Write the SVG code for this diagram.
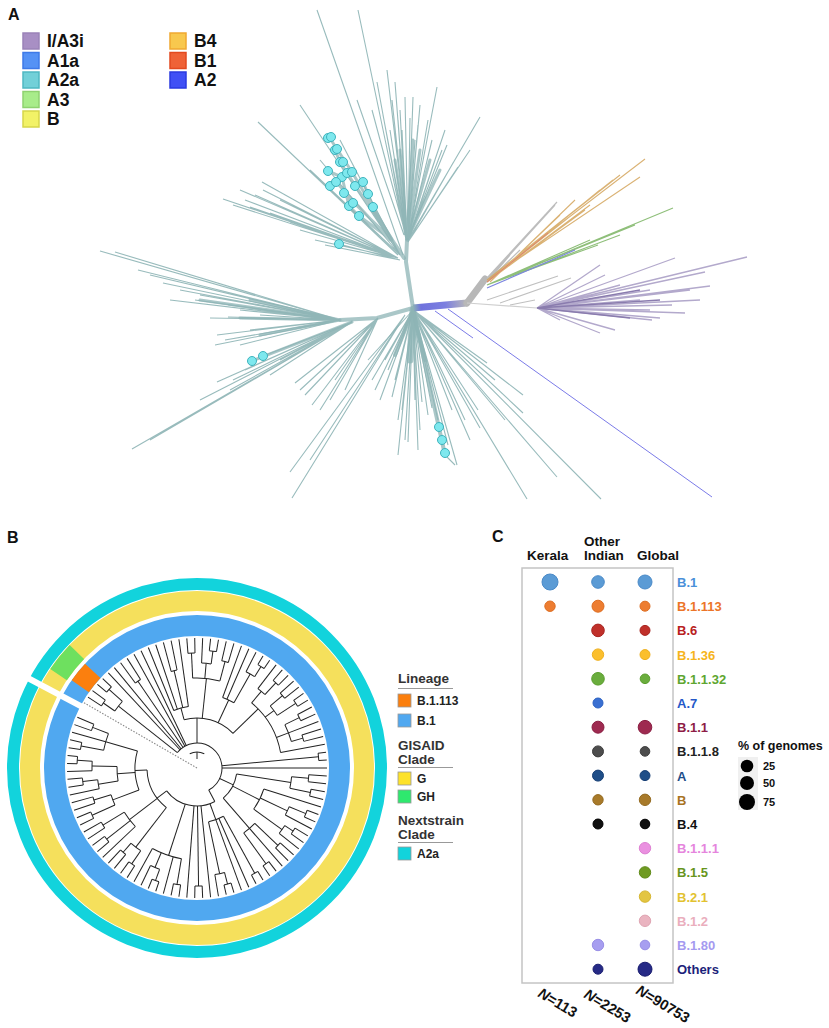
<svg xmlns="http://www.w3.org/2000/svg" width="829" height="1028" viewBox="0 0 829 1028">
<defs>
<linearGradient id="gBlue" x1="413" y1="308" x2="467" y2="303" gradientUnits="userSpaceOnUse">
<stop offset="0" stop-color="#8db4b5"/><stop offset="0.15" stop-color="#6f72dd"/><stop offset="0.6" stop-color="#7c7fe0"/><stop offset="1" stop-color="#b8b8b8"/>
</linearGradient>
</defs>
<style>
text{font-family:"Liberation Sans",Arial,sans-serif;font-weight:bold}
.tl{stroke:#8db4b5;stroke-width:1.1;fill:none;opacity:.9}
.tk{stroke:#8db4b5;fill:none;stroke-linecap:round;opacity:.75}
.dot{fill:#7ee8ee;stroke:#3eb3bd;stroke-width:1}
.lg{font-size:17.5px;fill:#111}
.bt path,.bt circle{fill:none}
.lgB{font-size:12px;fill:#222}
.hdB{font-size:13.5px;fill:#333}
.cl{font-size:13px}
.hd{font-size:13.5px;fill:#111}
</style>
<rect width="829" height="1028" fill="#fff"/>

<!-- Panel A -->
<text x="8" y="20" font-size="16" fill="#111">A</text>
<g id="legendA">
<g id="lg-IA3i"><rect x="23" y="33" width="16" height="16" fill="#a88fc4" stroke="#9a83b8" stroke-width="1.5"/><text class="lg" x="47" y="47">I/A3i</text></g>
<g id="lg-A1a"><rect x="23" y="52.5" width="16" height="16" fill="#5592f5" stroke="#3e7ae8" stroke-width="1.5"/><text class="lg" x="47" y="66.5">A1a</text></g>
<g id="lg-A2a"><rect x="23" y="72" width="16" height="16" fill="#72d0d8" stroke="#4fb8c2" stroke-width="1.5"/><text class="lg" x="47" y="86">A2a</text></g>
<g id="lg-A3"><rect x="23" y="91.5" width="16" height="16" fill="#a8ec8a" stroke="#8fd270" stroke-width="1.5"/><text class="lg" x="47" y="105.5">A3</text></g>
<g id="lg-B"><rect x="23" y="111" width="16" height="16" fill="#f2f267" stroke="#d6d64a" stroke-width="1.5"/><text class="lg" x="47" y="125">B</text></g>
<g id="lg-B4"><rect x="170" y="33" width="16" height="16" fill="#f8c84e" stroke="#f0a830" stroke-width="1.5"/><text class="lg" x="194" y="47">B4</text></g>
<g id="lg-B1"><rect x="170" y="52.5" width="16" height="16" fill="#ef6237" stroke="#e24a20" stroke-width="1.5"/><text class="lg" x="194" y="66.5">B1</text></g>
<g id="lg-A2"><rect x="170" y="72" width="16" height="16" fill="#4050f5" stroke="#2a3ae0" stroke-width="1.5"/><text class="lg" x="194" y="86">A2</text></g>
</g>

<g id="treeA">
<!-- top fan -->
<path class="tk" stroke-width="4" d="M413 308L406 262L407 240"/>
<path class="tk" stroke-width="3" opacity=".35" d="M407 240L420 150M407 240L413 140M407 240L430 160M407 240L400 150M407 240L440 170M407 240L395 160"/>
<path class="tl" d="M403 255L317 10M405 235L358 10M404 235L357 100M406 240L377 82M407 240L387 70M407 240L395 82M407 240L400 110M408 240L405 97M408 240L413 97M408 240L420 105M408 240L428 120M408 240L437 87M408 240L445 130M408 242L453 163M408 242L458 167M408 240L480 117M408 242L470 150M407 240L390 130M407 240L383 115M408 240L415 140M408 240L425 150M408 242L435 160M407 240L398 120M408 240L410 118M408 240L418 125M408 240L432 140M408 240L442 150M408 240L447 145M407 240L392 100M407 240L402 130M407 240L372 110"/>
<!-- upper-left fan with dots -->
<path class="tk" stroke-width="4" d="M404 258L392 240L370 205"/>
<path class="tk" stroke-width="3" stroke="#9bbaba" d="M392 240L352 172L337 149L329 137M392 240L359 216L349 206L342 177L328 171M392 240L373 207L368 194L363 182L355 186M390 240L336 182L330 186M392 240L344 193M392 240L347 173L340 162L335 150"/>
<path class="tl" d="M400 255L300 105M398 255L258 122M398 258L223 199M398 258L262 182M398 258L250 207M398 258L263 190M398 258L270 213M398 258L280 200M398 258L290 222M398 258L300 230M398 258L310 228M398 258L315 240M400 260L339 244M400 260L325 245M400 255L320 160M400 255L310 170M400 255L340 140M398 258L240 190M398 258L255 195M398 258L245 200M398 258L233 205"/>
<!-- left fan -->
<path class="tk" stroke-width="4" d="M413 308L377 318L340 320"/>
<path class="tk" stroke-width="3" opacity=".45" d="M340 320L240 318M340 320L250 300M340 320L260 335M340 320L200 300"/>
<path class="tl" d="M340 320L100 251M340 320L115 252M340 320L138 270M340 320L150 275M340 320L163 283M340 320L180 290M340 320L200 295M340 320L228 305M340 320L240 310M340 320L228 317M340 320L217 335M340 320L215 345M340 320L225 340M340 320L240 345M340 320L250 330M340 320L210 318M340 320L195 300M340 320L170 300M340 320L260 315"/>
<path class="tk" stroke-width="3" d="M352 322L252 361"/>
<path class="tl" d="M352 322L263 356M352 322L217 382M352 322L233 380M352 322L132 449M352 322L150 440M352 322L200 400M352 322L245 370M352 322L280 360M352 322L230 390M352 322L270 375M378 318L295 383M378 318L305 395M378 318L312 405M378 318L320 410M378 318L335 380M378 318L345 390M378 318L330 400M378 318L300 390M405 315L292 498M405 315L290 472M405 315L310 460"/>
<!-- down fan -->
<path class="tk" stroke-width="7" opacity=".45" d="M413 310L410 360"/>
<path class="tk" stroke-width="4" opacity=".45" d="M413 310L425 360M413 310L395 355"/>
<path class="tl" d="M413 310L392 397M413 310L395 380M413 310L388 370M413 310L385 360M413 310L380 400M413 310L398 420M413 310L405 440M413 310L408 442M413 310L402 410M413 310L415 400M413 310L420 430M413 310L422 402M413 310L428 415M413 310L432 408M413 310L438 420M413 310L452 410M413 310L457 465M413 310L448 445M413 310L480 428M413 310L487 363M413 310L495 380M413 310L523 395M413 310L523 413M413 310L527 499M413 310L557 477M413 310L601 499M413 310L505 420M413 310L470 440M413 310L465 420M413 310L478 410M413 310L372 380M413 310L368 360M413 310L375 390M413 310L398 455M413 310L418 450"/>
<path class="tk" stroke-width="4" d="M413 310L445 455"/>
<path class="tl" d="M445 455L455 465"/>
<!-- right side -->
<path d="M413 308L467 303" stroke="url(#gBlue)" stroke-width="7" fill="none"/>
<path d="M467 303L485 279" stroke="#b8b8b8" stroke-width="7" stroke-linecap="round" fill="none"/>
<path d="M448 309L712 497M435 311L473 338" stroke="#7b7be8" stroke-width="1" fill="none"/>
<path d="M487 278L557 202M487 280L555 205M487 280L545 215M487 282L520 250M487 282L510 255M487 282L515 248" stroke="#bdbdbd" stroke-width="1.2" fill="none"/>
<path d="M487 280L645 159M487 280L620 175M487 280L613 180M487 280L640 177M487 282L600 190M487 282L590 205M487 282L585 210M487 282L568 218M487 282L550 230M490 282L575 200M490 282L560 215" stroke="#d4a45c" stroke-width="1.1" opacity=".85" fill="none"/>
<path d="M487 282L548 233" stroke="#e08070" stroke-width="1" fill="none"/>
<path d="M487 285L673 208M487 285L635 225M487 285L598 245M487 285L590 240M487 285L620 235" stroke="#8fbf7a" stroke-width="1.1" fill="none"/>
<path d="M487 288L575 250" stroke="#7b84e0" stroke-width="1.1" fill="none"/>
<path d="M487 300L558 276M500 303L571 278M510 305L535 300" stroke="#c0c0c0" stroke-width="1.1" fill="none"/>
<path d="M467 303L537 308" stroke="#cfcfcf" stroke-width="1.2" fill="none"/>
<path d="M537 308L675 258M537 308L747 257M537 308L705 272M537 308L710 286M537 308L672 305M537 308L685 313M537 308L652 320M537 308L615 330M537 308L600 333M537 308L660 318M537 308L640 300M537 308L650 290M537 308L620 285M537 308L690 290M537 308L700 300M537 308L560 320M537 308L580 325M537 308L650 310M537 308L605 275M537 308L600 265" stroke="#b3a9cc" stroke-width="1.3" fill="none"/>
<path d="M537 308L640 290M537 308L660 300M537 308L630 318" stroke="#8a7cae" stroke-width="1.3" fill="none"/>
<!-- dots -->
<g class="dot">
<circle cx="328" cy="138" r="4.5"/><circle cx="331" cy="137" r="4.5"/><circle cx="335" cy="150" r="4.5"/><circle cx="337" cy="149" r="4.5"/><circle cx="340" cy="162" r="4.5"/><circle cx="343" cy="162" r="4.5"/><circle cx="328" cy="171" r="4.5"/><circle cx="342" cy="177" r="4.5"/><circle cx="347" cy="173" r="4.5"/><circle cx="352" cy="172" r="4.5"/><circle cx="330" cy="186" r="4.5"/><circle cx="336" cy="182" r="4.5"/><circle cx="344" cy="193" r="4.5"/><circle cx="355" cy="186" r="4.5"/><circle cx="363" cy="182" r="4.5"/><circle cx="368" cy="194" r="4.5"/><circle cx="349" cy="206" r="4.5"/><circle cx="353" cy="203" r="4.5"/><circle cx="359" cy="216" r="4.5"/><circle cx="373" cy="207" r="4.5"/><circle cx="339" cy="244" r="4.5"/>
<circle cx="252" cy="361" r="4.5"/><circle cx="263" cy="356" r="4.5"/>
<circle cx="439" cy="427" r="4.5"/><circle cx="442" cy="440" r="4.5"/><circle cx="445" cy="453" r="4.5"/>
</g>
</g>

<!-- Panel B -->
<text x="7" y="543" font-size="16" fill="#111">B</text>
<g id="ringsB" fill="none">
<circle cx="197" cy="768" r="184" stroke="#12d3dc" stroke-width="12"/>
<circle cx="197" cy="768" r="167" stroke="#f5e05c" stroke-width="20"/>
<circle cx="197" cy="768" r="142.5" stroke="#50a8f0" stroke-width="21"/>
<circle cx="197" cy="768" r="142.5" stroke="#fb7f0e" stroke-width="21" pathLength="360" stroke-dasharray="8 400" transform="rotate(215 197 768)"/>
<circle cx="197" cy="768" r="167" stroke="#6ee05f" stroke-width="20" pathLength="360" stroke-dasharray="10 400" transform="rotate(214 197 768)"/>
<path d="M130 0H197" stroke="#fff" stroke-width="6" transform="translate(197 768) rotate(208)"/>
</g>
<g id="treeB" class="bt" transform="translate(197 768)" stroke="#222" stroke-width="1">
<path d="M0 0H131" stroke="#888" stroke-dasharray="1.5 1.5" transform="rotate(210)"/>
<circle r="16" pathLength="360" stroke-dasharray="54 400" transform="rotate(243)"/>
<path d="M9 0H16" transform="rotate(270)"/>
<circle r="25" pathLength="360" stroke-dasharray="203.75 400" transform="rotate(218.25)"/>
<circle r="114" pathLength="360" stroke-dasharray="3.5 400" transform="rotate(213)"/>
<path d="M114 0H130" transform="rotate(213)"/><path d="M114 0H130" transform="rotate(216.5)"/><path d="M100 0H114" transform="rotate(214.75)"/>
<circle r="118" pathLength="360" stroke-dasharray="3.5 400" transform="rotate(220)"/>
<path d="M118 0H130" transform="rotate(220)"/><path d="M118 0H130" transform="rotate(223.5)"/><path d="M100 0H118" transform="rotate(221.75)"/>
<circle r="100" pathLength="360" stroke-dasharray="7 400" transform="rotate(214.75)"/>
<path d="M25 0H100" transform="rotate(218.25)"/>
<path d="M25 0H130" transform="rotate(227)"/><path d="M25 0H130" transform="rotate(230.5)"/>
<circle r="105" pathLength="360" stroke-dasharray="3.5 400" transform="rotate(234)"/>
<path d="M105 0H130" transform="rotate(234)"/><path d="M105 0H130" transform="rotate(237.5)"/><path d="M25 0H105" transform="rotate(235.75)"/>
<path d="M25 0H130" transform="rotate(241)"/><path d="M25 0H130" transform="rotate(244.5)"/>
<path d="M25 0H50" transform="rotate(270)"/>
<circle r="50" pathLength="360" stroke-dasharray="61 400" transform="rotate(255)"/>
<path d="M50 0H62" transform="rotate(255)"/>
<circle r="62" pathLength="360" stroke-dasharray="14 400" transform="rotate(248)"/>
<path d="M62 0H130" transform="rotate(248)"/><path d="M62 0H130" transform="rotate(251.5)"/><path d="M62 0H130" transform="rotate(262)"/>
<circle r="100" pathLength="360" stroke-dasharray="3.5 400" transform="rotate(255)"/>
<path d="M100 0H130" transform="rotate(255)"/><path d="M100 0H130" transform="rotate(258.5)"/><path d="M62 0H100" transform="rotate(256.75)"/>
<path d="M50 0H90" transform="rotate(276)"/>
<circle r="90" pathLength="360" stroke-dasharray="17.5 400" transform="rotate(267.25)"/>
<circle r="115" pathLength="360" stroke-dasharray="3.5 400" transform="rotate(265.5)"/>
<path d="M115 0H130" transform="rotate(265.5)"/><path d="M115 0H130" transform="rotate(269)"/><path d="M90 0H115" transform="rotate(267.25)"/>
<circle r="105" pathLength="360" stroke-dasharray="5.25 400" transform="rotate(272.5)"/>
<path d="M105 0H130" transform="rotate(272.5)"/>
<circle r="118" pathLength="360" stroke-dasharray="3.5 400" transform="rotate(276)"/>
<path d="M118 0H130" transform="rotate(276)"/><path d="M118 0H130" transform="rotate(279.5)"/><path d="M105 0H118" transform="rotate(277.75)"/>
<path d="M90 0H105" transform="rotate(275)"/>
<circle r="110" pathLength="360" stroke-dasharray="3.5 400" transform="rotate(283)"/>
<path d="M110 0H130" transform="rotate(283)"/><path d="M110 0H130" transform="rotate(286.5)"/><path d="M90 0H110" transform="rotate(284.75)"/>
<path d="M50 0H75" transform="rotate(295)"/>
<circle r="75" pathLength="360" stroke-dasharray="9.5 400" transform="rotate(290)"/>
<path d="M75 0H130" transform="rotate(290)"/><path d="M75 0H130" transform="rotate(293.5)"/>
<circle r="108" pathLength="360" stroke-dasharray="5.25 400" transform="rotate(297)"/>
<path d="M108 0H130" transform="rotate(297)"/>
<circle r="120" pathLength="360" stroke-dasharray="3.5 400" transform="rotate(300.5)"/>
<path d="M120 0H130" transform="rotate(300.5)"/><path d="M120 0H130" transform="rotate(304)"/><path d="M108 0H120" transform="rotate(302.25)"/>
<path d="M75 0H108" transform="rotate(299.5)"/>
<path d="M50 0H85" transform="rotate(316)"/>
<circle r="85" pathLength="360" stroke-dasharray="39.5 400" transform="rotate(310)"/>
<circle r="100" pathLength="360" stroke-dasharray="5.25 400" transform="rotate(307.5)"/>
<path d="M100 0H130" transform="rotate(307.5)"/>
<circle r="116" pathLength="360" stroke-dasharray="3.5 400" transform="rotate(311)"/>
<path d="M116 0H130" transform="rotate(311)"/><path d="M116 0H130" transform="rotate(314.5)"/><path d="M100 0H116" transform="rotate(312.75)"/>
<path d="M85 0H100" transform="rotate(310)"/>
<circle r="96" pathLength="360" stroke-dasharray="7 400" transform="rotate(319.75)"/>
<circle r="112" pathLength="360" stroke-dasharray="3.5 400" transform="rotate(318)"/>
<path d="M112 0H130" transform="rotate(318)"/><path d="M112 0H130" transform="rotate(321.5)"/><path d="M96 0H112" transform="rotate(319.75)"/>
<circle r="118" pathLength="360" stroke-dasharray="3.5 400" transform="rotate(325)"/>
<path d="M118 0H130" transform="rotate(325)"/><path d="M118 0H130" transform="rotate(328.5)"/><path d="M96 0H118" transform="rotate(326.75)"/>
<path d="M85 0H96" transform="rotate(323.25)"/>
<circle r="98" pathLength="360" stroke-dasharray="10.5 400" transform="rotate(333.75)"/>
<circle r="114" pathLength="360" stroke-dasharray="3.5 400" transform="rotate(332)"/>
<path d="M114 0H130" transform="rotate(332)"/><path d="M114 0H130" transform="rotate(335.5)"/><path d="M98 0H114" transform="rotate(333.75)"/>
<path d="M98 0H130" transform="rotate(339)"/>
<circle r="110" pathLength="360" stroke-dasharray="3.5 400" transform="rotate(342.5)"/>
<path d="M110 0H130" transform="rotate(342.5)"/><path d="M110 0H130" transform="rotate(346)"/><path d="M98 0H110" transform="rotate(344.25)"/>
<path d="M85 0H98" transform="rotate(339)"/>
<path d="M85 0H130" transform="rotate(349.5)"/>
<circle r="122" pathLength="360" stroke-dasharray="3.5 400" transform="rotate(353)"/>
<path d="M122 0H130" transform="rotate(353)"/><path d="M122 0H130" transform="rotate(356.5)"/><path d="M25 0H122" transform="rotate(354.75)"/>
<path d="M25 0H130" transform="rotate(360)"/>
<path d="M25 0H40" transform="rotate(25)"/>
<circle r="40" pathLength="360" stroke-dasharray="40.25 400" transform="rotate(8.75)"/>
<circle r="95" pathLength="360" stroke-dasharray="7 400" transform="rotate(5.25)"/>
<circle r="112" pathLength="360" stroke-dasharray="3.5 400" transform="rotate(3.5)"/>
<path d="M112 0H130" transform="rotate(3.5)"/><path d="M112 0H130" transform="rotate(7)"/><path d="M95 0H112" transform="rotate(5.25)"/>
<circle r="116" pathLength="360" stroke-dasharray="3.5 400" transform="rotate(10.5)"/>
<path d="M116 0H130" transform="rotate(10.5)"/><path d="M116 0H130" transform="rotate(14)"/><path d="M95 0H116" transform="rotate(12.25)"/>
<path d="M40 0H95" transform="rotate(8.75)"/>
<circle r="70" pathLength="360" stroke-dasharray="18.4 400" transform="rotate(17.5)"/>
<path d="M70 0H130" transform="rotate(17.5)"/>
<circle r="100" pathLength="360" stroke-dasharray="5.25 400" transform="rotate(22.75)"/>
<circle r="118" pathLength="360" stroke-dasharray="3.5 400" transform="rotate(21)"/>
<path d="M118 0H130" transform="rotate(21)"/><path d="M118 0H130" transform="rotate(24.5)"/><path d="M100 0H118" transform="rotate(22.75)"/>
<path d="M100 0H130" transform="rotate(28)"/><path d="M70 0H100" transform="rotate(25.4)"/>
<circle r="105" pathLength="360" stroke-dasharray="5.25 400" transform="rotate(33.25)"/>
<circle r="115" pathLength="360" stroke-dasharray="3.5 400" transform="rotate(31.5)"/>
<path d="M115 0H130" transform="rotate(31.5)"/><path d="M115 0H130" transform="rotate(35)"/><path d="M105 0H115" transform="rotate(33.25)"/>
<path d="M105 0H130" transform="rotate(38.5)"/><path d="M70 0H105" transform="rotate(35.9)"/>
<path d="M40 0H70" transform="rotate(27)"/>
<circle r="80" pathLength="360" stroke-dasharray="10.5 400" transform="rotate(43.75)"/>
<circle r="112" pathLength="360" stroke-dasharray="3.5 400" transform="rotate(42)"/>
<path d="M112 0H130" transform="rotate(42)"/><path d="M112 0H130" transform="rotate(45.5)"/><path d="M80 0H112" transform="rotate(43.75)"/>
<path d="M80 0H130" transform="rotate(49)"/>
<circle r="118" pathLength="360" stroke-dasharray="3.5 400" transform="rotate(52.5)"/>
<path d="M118 0H130" transform="rotate(52.5)"/><path d="M118 0H130" transform="rotate(56)"/><path d="M80 0H118" transform="rotate(54.25)"/>
<path d="M40 0H80" transform="rotate(49)"/>
<path d="M25 0H38" transform="rotate(62)"/>
<circle r="38" pathLength="360" stroke-dasharray="81 400" transform="rotate(62)"/>
<circle r="55" pathLength="360" stroke-dasharray="16.65 400" transform="rotate(61.25)"/>
<circle r="120" pathLength="360" stroke-dasharray="3.5 400" transform="rotate(59.5)"/>
<path d="M120 0H130" transform="rotate(59.5)"/><path d="M120 0H130" transform="rotate(63)"/><path d="M55 0H120" transform="rotate(61.25)"/>
<path d="M55 0H130" transform="rotate(66.5)"/><path d="M55 0H130" transform="rotate(70)"/>
<circle r="108" pathLength="360" stroke-dasharray="5.25 400" transform="rotate(75.25)"/>
<circle r="120" pathLength="360" stroke-dasharray="3.5 400" transform="rotate(73.5)"/>
<path d="M120 0H130" transform="rotate(73.5)"/><path d="M120 0H130" transform="rotate(77)"/><path d="M108 0H120" transform="rotate(75.25)"/>
<path d="M108 0H130" transform="rotate(80.5)"/><path d="M55 0H108" transform="rotate(77.9)"/>
<path d="M38 0H55" transform="rotate(70)"/>
<path d="M38 0H130" transform="rotate(84)"/>
<circle r="118" pathLength="360" stroke-dasharray="3.5 400" transform="rotate(87.5)"/>
<path d="M118 0H130" transform="rotate(87.5)"/><path d="M118 0H130" transform="rotate(91)"/><path d="M38 0H118" transform="rotate(89.25)"/>
<path d="M38 0H130" transform="rotate(94.5)"/>
<circle r="92" pathLength="360" stroke-dasharray="19.25 400" transform="rotate(99.75)"/>
<circle r="118" pathLength="360" stroke-dasharray="3.5 400" transform="rotate(98)"/>
<path d="M118 0H130" transform="rotate(98)"/><path d="M118 0H130" transform="rotate(101.5)"/><path d="M92 0H118" transform="rotate(99.75)"/>
<path d="M92 0H130" transform="rotate(105)"/>
<circle r="108" pathLength="360" stroke-dasharray="5.25 400" transform="rotate(110.25)"/>
<circle r="120" pathLength="360" stroke-dasharray="3.5 400" transform="rotate(108.5)"/>
<path d="M120 0H130" transform="rotate(108.5)"/><path d="M120 0H130" transform="rotate(112)"/><path d="M108 0H120" transform="rotate(110.25)"/>
<path d="M108 0H130" transform="rotate(115.5)"/><path d="M92 0H108" transform="rotate(112.9)"/>
<path d="M92 0H130" transform="rotate(119)"/>
<path d="M38 0H92" transform="rotate(108)"/>
<path d="M38 0H50" transform="rotate(143)"/>
<circle r="50" pathLength="360" stroke-dasharray="49.85 400" transform="rotate(127.75)"/>
<circle r="100" pathLength="360" stroke-dasharray="7 400" transform="rotate(124.25)"/>
<circle r="116" pathLength="360" stroke-dasharray="3.5 400" transform="rotate(122.5)"/>
<path d="M116 0H130" transform="rotate(122.5)"/><path d="M116 0H130" transform="rotate(126)"/><path d="M100 0H116" transform="rotate(124.25)"/>
<circle r="112" pathLength="360" stroke-dasharray="3.5 400" transform="rotate(129.5)"/>
<path d="M112 0H130" transform="rotate(129.5)"/><path d="M112 0H130" transform="rotate(133)"/><path d="M100 0H112" transform="rotate(131.25)"/>
<path d="M50 0H100" transform="rotate(127.75)"/>
<circle r="85" pathLength="360" stroke-dasharray="12.25 400" transform="rotate(136.5)"/>
<path d="M85 0H130" transform="rotate(136.5)"/>
<circle r="115" pathLength="360" stroke-dasharray="3.5 400" transform="rotate(140)"/>
<path d="M115 0H130" transform="rotate(140)"/><path d="M115 0H130" transform="rotate(143.5)"/><path d="M85 0H115" transform="rotate(141.75)"/>
<circle r="110" pathLength="360" stroke-dasharray="3.5 400" transform="rotate(147)"/>
<path d="M110 0H130" transform="rotate(147)"/><path d="M110 0H130" transform="rotate(150.5)"/><path d="M85 0H110" transform="rotate(148.75)"/>
<path d="M50 0H85" transform="rotate(142.6)"/>
<path d="M50 0H62" transform="rotate(177.6)"/>
<circle r="62" pathLength="360" stroke-dasharray="36.75 400" transform="rotate(159.25)"/>
<circle r="90" pathLength="360" stroke-dasharray="7 400" transform="rotate(155.75)"/>
<circle r="115" pathLength="360" stroke-dasharray="3.5 400" transform="rotate(154)"/>
<path d="M115 0H130" transform="rotate(154)"/><path d="M115 0H130" transform="rotate(157.5)"/><path d="M90 0H115" transform="rotate(155.75)"/>
<circle r="108" pathLength="360" stroke-dasharray="3.5 400" transform="rotate(161)"/>
<path d="M108 0H130" transform="rotate(161)"/><path d="M108 0H130" transform="rotate(164.5)"/><path d="M90 0H108" transform="rotate(162.75)"/>
<path d="M62 0H90" transform="rotate(159.25)"/>
<circle r="80" pathLength="360" stroke-dasharray="10.5 400" transform="rotate(170.6)"/>
<circle r="100" pathLength="360" stroke-dasharray="5.25 400" transform="rotate(168)"/>
<path d="M100 0H130" transform="rotate(168)"/>
<circle r="115" pathLength="360" stroke-dasharray="3.5 400" transform="rotate(171.5)"/>
<path d="M115 0H130" transform="rotate(171.5)"/><path d="M115 0H130" transform="rotate(175)"/><path d="M100 0H115" transform="rotate(173.25)"/>
<path d="M80 0H100" transform="rotate(170.6)"/>
<circle r="105" pathLength="360" stroke-dasharray="5.25 400" transform="rotate(178.5)"/>
<path d="M105 0H130" transform="rotate(178.5)"/>
<circle r="120" pathLength="360" stroke-dasharray="3.5 400" transform="rotate(182)"/>
<path d="M120 0H130" transform="rotate(182)"/><path d="M120 0H130" transform="rotate(185.5)"/><path d="M105 0H120" transform="rotate(183.75)"/>
<path d="M80 0H105" transform="rotate(181.1)"/>
<path d="M62 0H80" transform="rotate(175.9)"/>
<circle r="95" pathLength="360" stroke-dasharray="10.5 400" transform="rotate(190.75)"/>
<circle r="118" pathLength="360" stroke-dasharray="3.5 400" transform="rotate(189)"/>
<path d="M118 0H130" transform="rotate(189)"/><path d="M118 0H130" transform="rotate(192.5)"/><path d="M95 0H118" transform="rotate(190.75)"/>
<path d="M95 0H130" transform="rotate(196)"/>
<circle r="112" pathLength="360" stroke-dasharray="3.5 400" transform="rotate(199.5)"/>
<path d="M112 0H130" transform="rotate(199.5)"/><path d="M112 0H130" transform="rotate(203)"/><path d="M95 0H112" transform="rotate(201.25)"/>
<path d="M62 0H95" transform="rotate(196)"/>
</g>
<g id="legendB">
<text class="hdB" x="398" y="683">Lineage</text>
<path d="M398 688.5H453" stroke="#999" stroke-width="1"/>
<g id="lgB-B1113"><rect x="398" y="694" width="13" height="13" fill="#fb7f0e" stroke="#999" stroke-width="0.8"/><text class="lgB" x="417" y="705">B.1.113</text></g>
<g id="lgB-B1"><rect x="398" y="714" width="13" height="13" fill="#50a8f0" stroke="#999" stroke-width="0.8"/><text class="lgB" x="417" y="725">B.1</text></g>
<text class="hdB" x="398" y="750">GISAID</text>
<text class="hdB" x="398" y="764">Clade</text>
<path d="M398 767.5H453" stroke="#999" stroke-width="1"/>
<g id="lgB-G"><rect x="398" y="772" width="13" height="13" fill="#fde22a" stroke="#999" stroke-width="0.8"/><text class="lgB" x="417" y="783">G</text></g>
<g id="lgB-GH"><rect x="398" y="790" width="13" height="13" fill="#2ee86e" stroke="#999" stroke-width="0.8"/><text class="lgB" x="417" y="801">GH</text></g>
<text class="hdB" x="398" y="825">Nextstrain</text>
<text class="hdB" x="398" y="839">Clade</text>
<path d="M398 842.5H453" stroke="#999" stroke-width="1"/>
<g id="lgB-A2a"><rect x="398" y="847" width="13" height="13" fill="#12d3dc" stroke="#999" stroke-width="0.8"/><text class="lgB" x="417" y="858">A2a</text></g>
</g>

<!-- Panel C -->
<text x="492" y="542" font-size="16" fill="#111">C</text>
<g id="headersC">
<text class="hd" x="527" y="560">Kerala</text>
<text class="hd" x="584" y="546">Other</text>
<text class="hd" x="584" y="560">Indian</text>
<text class="hd" x="637" y="560">Global</text>
</g>
<rect x="522" y="568" width="151" height="415" fill="none" stroke="#c4c4c4" stroke-width="1.5"/>
<g id="dotsC" stroke-width="1">
<g id="r-B1" fill="#5b9bd5" stroke="#4a8ac8"><circle cx="550" cy="582" r="8"/><circle cx="598" cy="582" r="6.3"/><circle cx="645" cy="582" r="7"/><text class="cl" x="677" y="587" stroke="none" fill="#4a90d9">B.1</text></g>
<g id="r-B1113" fill="#ed7d31" stroke="#dd6d21"><circle cx="550" cy="606.2" r="5.2"/><circle cx="598" cy="606.2" r="6"/><circle cx="645" cy="606.2" r="5"/><text class="cl" x="677" y="611.2" stroke="none" fill="#ec7528">B.1.113</text></g>
<g id="r-B6" fill="#c0302a" stroke="#a82420"><circle cx="598" cy="630.4" r="6.3"/><circle cx="645" cy="630.4" r="5"/><text class="cl" x="677" y="635.4" stroke="none" fill="#b82020">B.6</text></g>
<g id="r-B136" fill="#fbbf2d" stroke="#eeb020"><circle cx="598" cy="654.6" r="5.7"/><circle cx="645" cy="654.6" r="5"/><text class="cl" x="677" y="659.6" stroke="none" fill="#f6b51c">B.1.36</text></g>
<g id="r-B1132" fill="#6aad3d" stroke="#5a9d2d"><circle cx="598" cy="678.8" r="6.3"/><circle cx="645" cy="678.8" r="4.8"/><text class="cl" x="677" y="683.8" stroke="none" fill="#5ea630">B.1.1.32</text></g>
<g id="r-A7" fill="#3a70d2" stroke="#2a60c2"><circle cx="598" cy="703" r="5"/><text class="cl" x="677" y="708" stroke="none" fill="#2558c8">A.7</text></g>
<g id="r-B11" fill="#9e2a50" stroke="#8a1e42"><circle cx="598" cy="727.2" r="6"/><circle cx="645" cy="727.2" r="6.8"/><text class="cl" x="677" y="732.2" stroke="none" fill="#8e1c46">B.1.1</text></g>
<g id="r-B118" fill="#4d4d4d" stroke="#3d3d3d"><circle cx="598" cy="751.4" r="5.5"/><circle cx="645" cy="751.4" r="4.8"/><text class="cl" x="677" y="756.4" stroke="none" fill="#222">B.1.1.8</text></g>
<g id="r-A" fill="#1f4e88" stroke="#173f75"><circle cx="598" cy="775.6" r="5.5"/><circle cx="645" cy="775.6" r="5"/><text class="cl" x="677" y="780.6" stroke="none" fill="#1f4e8a">A</text></g>
<g id="r-B" fill="#a87a2a" stroke="#946a20"><circle cx="598" cy="799.8" r="5.2"/><circle cx="645" cy="799.8" r="5.7"/><text class="cl" x="677" y="804.8" stroke="none" fill="#a8731f">B</text></g>
<g id="r-B4" fill="#111" stroke="#000"><circle cx="598" cy="824" r="5"/><circle cx="645" cy="824" r="4.8"/><text class="cl" x="677" y="829" stroke="none" fill="#111">B.4</text></g>
<g id="r-B111" fill="#ea90e0" stroke="#dd80d2"><circle cx="645" cy="848.2" r="5.7"/><text class="cl" x="677" y="853.2" stroke="none" fill="#e585dd">B.1.1.1</text></g>
<g id="r-B15" fill="#6f9a22" stroke="#5f8a18"><circle cx="645" cy="872.4" r="5.7"/><text class="cl" x="677" y="877.4" stroke="none" fill="#67951c">B.1.5</text></g>
<g id="r-B21" fill="#e3c542" stroke="#d6b632"><circle cx="645" cy="896.6" r="5.7"/><text class="cl" x="677" y="901.6" stroke="none" fill="#e2c230">B.2.1</text></g>
<g id="r-B12" fill="#eab4c0" stroke="#dfa4b2"><circle cx="645" cy="920.8" r="5.7"/><text class="cl" x="677" y="925.8" stroke="none" fill="#eaaebd">B.1.2</text></g>
<g id="r-B180" fill="#a79ef0" stroke="#988ee6"><circle cx="598" cy="945" r="5.7"/><circle cx="645" cy="945" r="4.8"/><text class="cl" x="677" y="950" stroke="none" fill="#a59af0">B.1.80</text></g>
<g id="r-Others" fill="#262a86" stroke="#1a1e70"><circle cx="598" cy="969.2" r="5"/><circle cx="645" cy="969.2" r="7"/><text class="cl" x="677" y="974.2" stroke="none" fill="#1c1f7a">Others</text></g>
</g>
<g id="sizeLegend">
<text x="738" y="750" font-size="12.5" fill="#111">% of genomes</text>
<rect x="738" y="757" width="20" height="53" fill="#f0f0f0"/>
<circle cx="747" cy="766" r="6.3" fill="#000"/>
<circle cx="747" cy="783" r="7" fill="#000"/>
<circle cx="747" cy="802" r="8" fill="#000"/>
<text x="763" y="770" font-size="11" fill="#111">25</text>
<text x="763" y="787" font-size="11" fill="#111">50</text>
<text x="763" y="806" font-size="11" fill="#111">75</text>
</g>
<g id="nLabels" font-size="14.5" fill="#111">
<text transform="translate(537 996) rotate(31)"><tspan font-style="italic">N</tspan>=113</text>
<text transform="translate(583 997) rotate(31)"><tspan font-style="italic">N</tspan>=2253</text>
<text transform="translate(635 993) rotate(31)"><tspan font-style="italic">N</tspan>=90753</text>
</g>
</svg>
